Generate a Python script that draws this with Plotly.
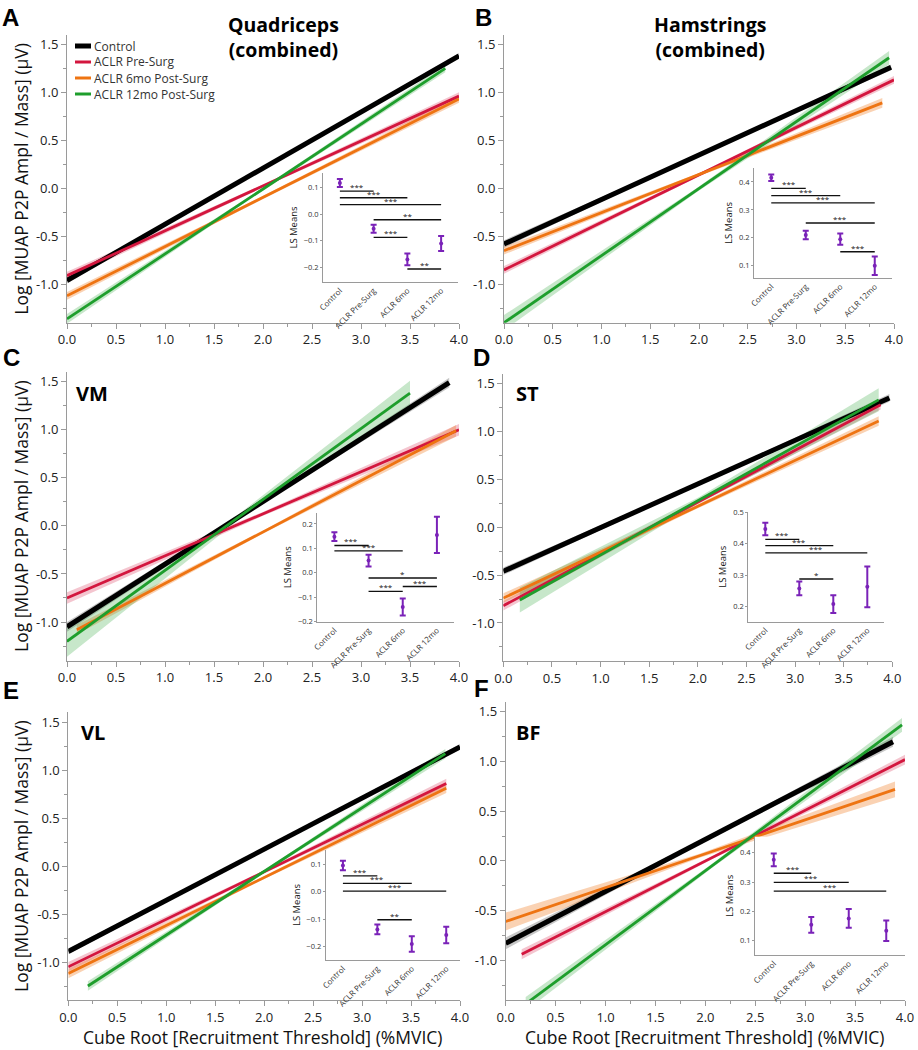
import plotly.graph_objects as go

W, H = 918, 1050
FONT = "Open Sans, Noto Sans, DejaVu Sans, sans-serif"

# ---------------- data ----------------
series_names = ["Control", "ACLR Pre-Surg", "ACLR 6mo Post-Surg", "ACLR 12mo Post-Surg"]
inset_categories = ["Control", "ACLR Pre-Surg", "ACLR 6mo", "ACLR 12mo"]
x_tick_values = [0.0, 0.5, 1.0, 1.5, 2.0, 2.5, 3.0, 3.5, 4.0]
x_tick_labels = ["0.0", "0.5", "1.0", "1.5", "2.0", "2.5", "3.0", "3.5", "4.0"]
y_tick_values = [-1.0, -0.5, 0.0, 0.5, 1.0, 1.5]
y_tick_labels = ["-1.0", "-0.5", "0.0", "0.5", "1.0", "1.5"]

panel_letters = ["A", "B", "C", "D", "E", "F"]
panel_titles = ["Quadriceps<br>(combined)", "Hamstrings<br>(combined)", "VM", "ST", "VL", "BF"]
y_title = "Log [MUAP P2P Ampl / Mass] (µV)"
x_title = "Cube Root [Recruitment Threshold] (%MVIC)"
inset_y_title = "LS Means"

# regression lines (order: Control, Pre-Surg, 6mo, 12mo)
A_start_x = [0.0, 0.0, 0.0, 0.0]
A_end_x = [4.0, 4.0, 4.0, 3.86]
A_start_y = [-0.96, -0.91, -1.12, -1.36]
A_end_y = [1.38, 0.96, 0.93, 1.25]
A_ci_start = [0.03, 0.04, 0.04, 0.05]
A_ci_mid = [0.01, 0.015, 0.015, 0.015]
A_ci_end = [0.03, 0.04, 0.04, 0.04]

B_start_x = [0.0, 0.0, 0.0, 0.0]
B_end_x = [3.97, 4.0, 3.88, 3.95]
B_start_y = [-0.58, -0.85, -0.65, -1.40]
B_end_y = [1.26, 1.13, 0.89, 1.36]
B_ci_start = [0.04, 0.04, 0.04, 0.08]
B_ci_mid = [0.01, 0.015, 0.015, 0.02]
B_ci_end = [0.03, 0.04, 0.05, 0.07]

C_start_x = [0.0, 0.0, 0.1, 0.0]
C_end_x = [3.9, 4.0, 3.97, 3.5]
C_start_y = [-1.05, -0.75, -1.08, -1.20]
C_end_y = [1.49, 1.0, 0.99, 1.38]
C_ci_start = [0.05, 0.06, 0.05, 0.16]
C_ci_mid = [0.015, 0.02, 0.015, 0.03]
C_ci_end = [0.05, 0.06, 0.06, 0.13]

D_start_x = [0.0, 0.0, 0.0, 0.17]
D_end_x = [3.97, 3.88, 3.86, 3.86]
D_start_y = [-0.46, -0.82, -0.74, -0.76]
D_end_y = [1.35, 1.28, 1.11, 1.33]
D_ci_start = [0.04, 0.05, 0.05, 0.13]
D_ci_mid = [0.012, 0.02, 0.02, 0.03]
D_ci_end = [0.04, 0.05, 0.05, 0.12]

E_start_x = [0.0, 0.0, 0.0, 0.2]
E_end_x = [4.0, 3.86, 3.86, 3.85]
E_start_y = [-0.89, -1.05, -1.12, -1.25]
E_end_y = [1.24, 0.86, 0.81, 1.17]
E_ci_start = [0.03, 0.05, 0.05, 0.05]
E_ci_mid = [0.01, 0.015, 0.015, 0.015]
E_ci_end = [0.03, 0.05, 0.05, 0.05]

F_start_x = [0.0, 0.16, 0.0, 0.2]
F_end_x = [3.88, 4.0, 3.9, 3.97]
F_start_y = [-0.83, -0.94, -0.61, -1.44]
F_end_y = [1.20, 1.02, 0.72, 1.37]
F_ci_start = [0.06, 0.05, 0.09, 0.07]
F_ci_mid = [0.015, 0.015, 0.02, 0.02]
F_ci_end = [0.05, 0.05, 0.08, 0.07]

# inset LS means (Control, Pre-Surg, 6mo, 12mo)
A_ls_mean = [0.117, -0.055, -0.17, -0.11]
A_ls_err = [0.015, 0.015, 0.022, 0.028]
B_ls_mean = [0.415, 0.21, 0.195, 0.10]
B_ls_err = [0.012, 0.015, 0.02, 0.033]
C_ls_mean = [0.148, 0.05, -0.14, 0.155]
C_ls_err = [0.018, 0.024, 0.035, 0.074]
D_ls_mean = [0.447, 0.258, 0.208, 0.263]
D_ls_err = [0.02, 0.022, 0.028, 0.065]
E_ls_mean = [0.095, -0.137, -0.19, -0.157]
E_ls_err = [0.017, 0.018, 0.028, 0.03]
F_ls_mean = [0.376, 0.154, 0.176, 0.134]
F_ls_err = [0.022, 0.027, 0.032, 0.035]

# significance brackets
A_br_from = [0, 0, 0, 1, 1, 2]
A_br_to = [1, 2, 3, 3, 2, 3]
A_br_y = [0.087, 0.062, 0.036, -0.021, -0.087, -0.206]
A_br_label = ["***", "***", "***", "**", "***", "**"]

B_br_from = [0, 0, 0, 1, 2]
B_br_to = [1, 2, 3, 3, 3]
B_br_y = [0.377, 0.351, 0.325, 0.253, 0.150]
B_br_label = ["***", "***", "***", "***", "***"]

C_br_from = [0, 0, 1, 2, 1]
C_br_to = [1, 2, 3, 3, 2]
C_br_y = [0.112, 0.090, -0.021, -0.056, -0.076]
C_br_label = ["***", "***", "*", "***", "***"]

D_br_from = [0, 0, 0, 1]
D_br_to = [1, 2, 3, 2]
D_br_y = [0.414, 0.394, 0.371, 0.288]
D_br_label = ["***", "***", "***", "*"]

E_br_from = [0, 0, 0, 1]
E_br_to = [1, 2, 3, 2]
E_br_y = [0.057, 0.030, 0.002, -0.102]
E_br_label = ["***", "***", "***", "**"]

F_br_from = [0, 0, 0]
F_br_to = [1, 2, 3]
F_br_y = [0.330, 0.299, 0.269]
F_br_label = ["***", "***", "***"]

# ---------------- styles / layout geometry ----------------
line_colors = ["#000000", "#d3163e", "#ee7412", "#1e9e2c"]
band_colors = ["rgba(0,0,0,0.22)", "rgba(211,22,62,0.25)", "rgba(238,116,18,0.32)", "rgba(30,158,44,0.25)"]
line_widths = [5, 2.8, 2.8, 2.8]
legend_widths = [5, 3, 3, 3]
purple = "#7a22b8"
axis_gray = "#9a9a9a"

# pixel boxes (left, right, top, bottom)
main_boxes = [(67, 459, 34.7, 322.7), (504, 894, 34.7, 322.7),
              (67, 459, 372, 660.5), (503.3, 892.3, 374, 661.3),
              (68.3, 460, 712.4, 1000.4), (505.7, 905, 702, 1000)]
inset_boxes = [(323, 458, 173, 282), (754, 892, 168, 278),
               (317.3, 454, 512.7, 621.7), (748.3, 884.3, 511.7, 621.7),
               (325.7, 460, 850, 960), (755, 905, 836.7, 955)]
inset_yranges = [[-0.255, 0.155], [0.056, 0.45], [-0.2, 0.246],
                 [0.152, 0.502], [-0.248, 0.151], [0.051, 0.455]]
inset_xranges = [[-0.5, 3.5]] * 4 + [[-0.5, 3.4], [-0.5, 3.5]]
letter_pos = [(10, 17), (483, 17), (11, 357), (482, 357), (11, 690), (482, 688)]
title_pos = [(283, 37), (710, 37), (92, 393), (527, 393), (93, 732), (528, 732)]
x_title_pos = [None, None, None, None, (263, 1037), (705, 1037)]
y_title_pos = [(21, 178.7), None, (21, 516), None, (21, 856), None]
legend_rows = [46, 62, 78, 94]
legend_line_x = (75, 91)
legend_text_x = 93


def xdom(l, r):
    return [l / W, r / W]


def ydom(t, b):
    return [1 - b / H, 1 - t / H]


fits = [
    (A_start_x, A_end_x, A_start_y, A_end_y, A_ci_start, A_ci_mid, A_ci_end),
    (B_start_x, B_end_x, B_start_y, B_end_y, B_ci_start, B_ci_mid, B_ci_end),
    (C_start_x, C_end_x, C_start_y, C_end_y, C_ci_start, C_ci_mid, C_ci_end),
    (D_start_x, D_end_x, D_start_y, D_end_y, D_ci_start, D_ci_mid, D_ci_end),
    (E_start_x, E_end_x, E_start_y, E_end_y, E_ci_start, E_ci_mid, E_ci_end),
    (F_start_x, F_end_x, F_start_y, F_end_y, F_ci_start, F_ci_mid, F_ci_end),
]
ls_data = [(A_ls_mean, A_ls_err), (B_ls_mean, B_ls_err), (C_ls_mean, C_ls_err),
           (D_ls_mean, D_ls_err), (E_ls_mean, E_ls_err), (F_ls_mean, F_ls_err)]
brackets = [(A_br_from, A_br_to, A_br_y, A_br_label), (B_br_from, B_br_to, B_br_y, B_br_label),
            (C_br_from, C_br_to, C_br_y, C_br_label), (D_br_from, D_br_to, D_br_y, D_br_label),
            (E_br_from, E_br_to, E_br_y, E_br_label), (F_br_from, F_br_to, F_br_y, F_br_label)]

fig = go.Figure()
annotations = []
shapes = []
layout_axes = {}

for p in range(6):
    k = p + 1
    xa = "x" if k == 1 else f"x{k}"
    ya = "y" if k == 1 else f"y{k}"
    sx, ex, sy, ey, cs, cm, ce = fits[p]

    # confidence bands
    for s in range(4):
        mx = (sx[s] + ex[s]) / 2
        my = (sy[s] + ey[s]) / 2
        fig.add_trace(go.Scatter(
            x=[sx[s], mx, ex[s], ex[s], mx, sx[s], sx[s]],
            y=[sy[s] + cs[s], my + cm[s], ey[s] + ce[s], ey[s] - ce[s], my - cm[s], sy[s] - cs[s], sy[s] + cs[s]],
            fill="toself", fillcolor=band_colors[s], line=dict(width=0),
            mode="lines", hoverinfo="skip", showlegend=False, xaxis=xa, yaxis=ya))
    # fitted lines
    for s in range(4):
        fig.add_trace(go.Scatter(
            x=[sx[s], ex[s]], y=[sy[s], ey[s]], mode="lines",
            line=dict(color=line_colors[s], width=line_widths[s]),
            name=series_names[s], showlegend=False, xaxis=xa, yaxis=ya))

    l, r, t, b = main_boxes[p]
    xaxis = dict(domain=xdom(l, r), range=[0, 4], anchor=ya, showline=True, linecolor=axis_gray,
                 linewidth=1, ticks="outside", ticklen=5, tickcolor=axis_gray,
                 tickmode="array", tickvals=x_tick_values, ticktext=x_tick_labels,
                 tickfont=dict(size=13, color="#222", family=FONT), showgrid=False, zeroline=False,
                 minor=dict(ticks="outside", ticklen=3, tickcolor=axis_gray, tickmode="linear",
                            tick0=0, dtick=0.25, showgrid=False),
                 automargin=False)
    yaxis = dict(domain=ydom(t, b), range=[-1.4, 1.6], anchor=xa, showline=True, linecolor=axis_gray,
                 linewidth=1, ticks="outside", ticklen=5, tickcolor=axis_gray,
                 tickmode="array", tickvals=y_tick_values, ticktext=y_tick_labels,
                 tickfont=dict(size=13, color="#222", family=FONT), showgrid=False, zeroline=False,
                 minor=dict(ticks="outside", ticklen=3, tickcolor=axis_gray, tickmode="linear",
                            tick0=0, dtick=0.25, showgrid=False),
                 automargin=False)
    layout_axes["xaxis" if k == 1 else f"xaxis{k}"] = xaxis
    layout_axes["yaxis" if k == 1 else f"yaxis{k}"] = yaxis
    if x_title_pos[p] is not None:
        tx, ty = x_title_pos[p]
        annotations.append(dict(x=tx / W, y=1 - ty / H, xref="paper", yref="paper", text=x_title,
                                showarrow=False, xanchor="center", yanchor="middle", borderpad=0,
                                font=dict(size=17.5, color="#111", family=FONT)))
    if y_title_pos[p] is not None:
        tx, ty = y_title_pos[p]
        annotations.append(dict(x=tx / W, y=1 - ty / H, xref="paper", yref="paper", text=y_title,
                                showarrow=False, xanchor="center", yanchor="middle", textangle=-90,
                                font=dict(size=17.5, color="#111", family=FONT)))

    # inset LS means
    ik = k + 6
    ixa, iya = f"x{ik}", f"y{ik}"
    mean, err = ls_data[p]
    bf, bt, by, bl = brackets[p]
    bx, byy = [], []
    for i in range(len(bf)):
        bx += [bf[i], bt[i], None]
        byy += [by[i], by[i], None]
    fig.add_trace(go.Scatter(x=bx, y=byy, mode="lines", line=dict(color="#111", width=1.4),
                             showlegend=False, hoverinfo="skip", xaxis=ixa, yaxis=iya))
    fig.add_trace(go.Scatter(
        x=list(range(4)), y=mean, mode="markers", name="LS Means",
        marker=dict(color=purple, size=4),
        error_y=dict(type="data", array=err, color=purple, thickness=2, width=3),
        showlegend=False, xaxis=ixa, yaxis=iya))
    for i in range(len(bf)):
        annotations.append(dict(x=(bf[i] + bt[i]) / 2, y=by[i], xref=ixa, yref=iya, text=bl[i],
                                showarrow=False, yanchor="bottom", yshift=-3,
                                font=dict(size=8, color="#111", family=FONT)))
    il, ir, it, ib = inset_boxes[p]
    layout_axes[f"xaxis{ik}"] = dict(
        domain=xdom(il, ir), range=inset_xranges[p], anchor=iya, showline=True, linecolor=axis_gray,
        tickmode="array", tickvals=[0, 1, 2, 3], ticktext=inset_categories, tickangle=-45,
        ticks="", tickfont=dict(size=8, color="#333", family=FONT), showgrid=False, zeroline=False,
        automargin=False)
    layout_axes[f"yaxis{ik}"] = dict(
        domain=ydom(it, ib), range=inset_yranges[p], anchor=ixa, showline=True, linecolor=axis_gray,
        dtick=0.1, tick0=0, tickformat=".1f", ticks="outside", ticklen=2, tickcolor=axis_gray,
        tickfont=dict(size=7.5, color="#333", family=FONT), showgrid=False, zeroline=False,
        title=dict(text=inset_y_title, font=dict(size=9.5, color="#111", family=FONT), standoff=4),
        automargin=False)

    # letters and titles
    lx, ly = letter_pos[p]
    annotations.append(dict(x=lx / W, y=1 - ly / H, xref="paper", yref="paper", text=f"<b>{panel_letters[p]}</b>",
                            showarrow=False, xanchor="center", yanchor="middle",
                            font=dict(size=24, color="#000", family="Liberation Sans, Arial, sans-serif")))
    tx, ty = title_pos[p]
    annotations.append(dict(x=tx / W, y=1 - ty / H, xref="paper", yref="paper", text=f"<b>{panel_titles[p]}</b>",
                            showarrow=False, xanchor="center", yanchor="middle",
                            font=dict(size=19.5 if p < 2 else 20, color="#000", family=FONT)))

# legend (panel A, top-left)
for s in range(4):
    yy = 1 - legend_rows[s] / H
    shapes.append(dict(type="line", xref="paper", yref="paper",
                       x0=legend_line_x[0] / W, x1=legend_line_x[1] / W, y0=yy, y1=yy,
                       line=dict(color=line_colors[s], width=legend_widths[s])))
    annotations.append(dict(x=legend_text_x / W, y=yy, xref="paper", yref="paper", text=series_names[s],
                            showarrow=False, xanchor="left", yanchor="middle", borderpad=0,
                            font=dict(size=12, color="#333", family=FONT)))

fig.update_layout(
    width=W, height=H, margin=dict(l=0, r=0, t=0, b=0),
    paper_bgcolor="white", plot_bgcolor="white",
    font=dict(family=FONT, color="#222"),
    showlegend=False,
    annotations=annotations,
    shapes=shapes,
    **layout_axes,
)

fig.write_html("out.html", config={"displayModeBar": False},
               post_script="document.body.style.margin='0px';document.body.style.overflow='hidden';")
